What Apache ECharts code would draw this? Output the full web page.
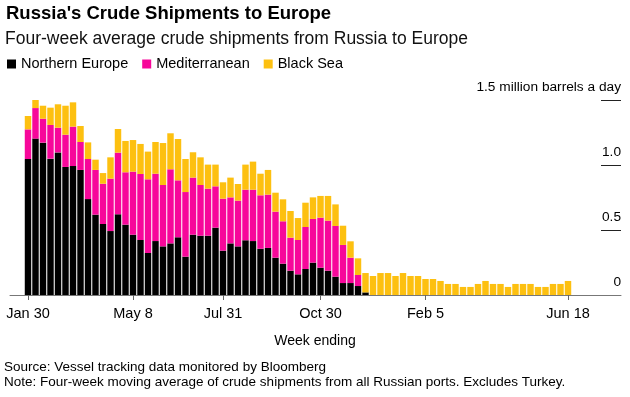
<!DOCTYPE html>
<html><head><meta charset="utf-8">
<script src="https://cdn.jsdelivr.net/npm/echarts@6/dist/echarts.min.js"></script>
<style>html,body{margin:0;padding:0;background:#fff;}#c{width:630px;height:397px;}</style>
</head><body><div id="c"></div>
<script>
// Week-ending dates, Jan 30 2022 to Jun 18 2023 (weekly)
const startDate = Date.UTC(2022, 0, 30);
const categories = [];
for (let i = 0; i < 73; i++) {
  categories.push(new Date(startDate + i * 7 * 86400000).toISOString().slice(0, 10));
}
const tickDates = ['2022-01-30','2022-05-08','2022-07-31','2022-10-30','2023-02-05','2023-06-18'];
const tickLabels = ['Jan 30','May 8','Jul 31','Oct 30','Feb 5','Jun 18'];
const yTickLabels = {0:'0', 0.5:'0.5', 1:'1.0', 1.5:'1.5 million barrels a day'};

const northernEurope = [1.046,1.203,1.172,1.049,1.097,0.985,0.992,0.962,0.738,0.618,
  0.546,0.492,0.621,0.541,0.464,0.423,0.323,0.415,0.374,0.397,
  0.444,0.295,0.464,0.456,0.456,0.518,0.341,0.397,0.374,0.421,
  0.415,0.356,0.362,0.287,0.241,0.187,0.159,0.200,0.249,0.210,
  0.187,0.141,0.092,0.092,0.069,0.020,0,0,0,0,
  0,0,0,0,0,0,0,0,0,0,
  0,0,0,0,0,0,0,0,0,0,
  0,0,0];
const mediterranean = [0.228,0.235,0.184,0.259,0.190,0.248,0.303,0.215,0.308,0.344,
  0.310,0.403,0.474,0.403,0.485,0.508,0.567,0.518,0.472,0.570,
  0.438,0.497,0.439,0.390,0.362,0.318,0.400,0.354,0.352,0.389,
  0.395,0.411,0.410,0.354,0.326,0.254,0.264,0.323,0.336,0.385,
  0.385,0.390,0.293,0.195,0.085,0,0,0,0,0,
  0,0,0,0,0,0,0,0,0,0,
  0,0,0,0,0,0,0,0,0,0,
  0,0,0];
const blackSea = [0.103,0.100,0.100,0.133,0.180,0.223,0.187,0.123,0.128,0.079,
  0.082,0.164,0.182,0.241,0.243,0.231,0.213,0.244,0.323,0.277,
  0.318,0.254,0.195,0.213,0.185,0.167,0.126,0.152,0.128,0.193,
  0.216,0.166,0.190,0.146,0.169,0.205,0.169,0.187,0.166,0.167,
  0.190,0.166,0.148,0.126,0.128,0.149,0.146,0.169,0.169,0.146,
  0.169,0.146,0.146,0.123,0.123,0.108,0.085,0.085,0.062,0.062,
  0.085,0.108,0.085,0.085,0.062,0.085,0.085,0.085,0.062,0.062,
  0.085,0.085,0.108];

const FONT = 'Liberation Sans, Arial, sans-serif';
const chart = echarts.init(document.getElementById('c'), null, {renderer: 'canvas'});
const GT = 100, GH = 195;
chart.setOption({
  animation: false,
  textStyle: {fontFamily: FONT},
  title: [
    {text: "Russia's Crude Shipments to Europe", left: 6, top: 4.5, padding: 0,
     textStyle: {fontSize: 18.5, fontWeight: 'bold', color: '#000', fontFamily: FONT}},
    {text: 'Four-week average crude shipments from Russia to Europe', left: 5, top: 30, padding: 0,
     textStyle: {fontSize: 17.5, fontWeight: 'normal', color: '#111', fontFamily: FONT}},
    {text: 'Week ending', left: 315, top: 334, textAlign: 'center', padding: 0,
     textStyle: {fontSize: 14, fontWeight: 'normal', color: '#000', fontFamily: FONT}},
    {text: 'Source: Vessel tracking data monitored by Bloomberg\nNote: Four-week moving average of crude shipments from all Russian ports. Excludes Turkey.',
     left: 4, top: 359.5, padding: 0,
     textStyle: {fontSize: 13.5, fontWeight: 'normal', color: '#000', lineHeight: 15.5, fontFamily: FONT}}
  ],
  legend: {
    left: 7, top: 56.5, padding: 0, itemWidth: 9, itemHeight: 9, itemGap: 14,
    icon: 'rect', textStyle: {fontSize: 14.5, color: '#000', fontFamily: FONT},
    data: ['Northern Europe', 'Mediterranean', 'Black Sea']
  },
  grid: [
    {left: 24.25, width: 547.5, top: GT, height: GH},
    {left: 10, width: 611, top: GT, height: GH},
    {left: 601, width: 20, top: GT, height: GH}
  ],
  xAxis: [
    {type: 'category', gridIndex: 0, data: categories, boundaryGap: true,
     axisLine: {show: false},
     axisTick: {show: true, alignWithLabel: true, length: 5, lineStyle: {color: '#666'},
       interval: (i, v) => tickDates.indexOf(v) >= 0},
     axisLabel: {interval: (i, v) => tickDates.indexOf(v) >= 0, margin: 11,
       formatter: v => tickLabels[tickDates.indexOf(v)] || '',
       fontSize: 14.5, color: '#000', fontFamily: FONT}},
    {type: 'value', gridIndex: 1, min: 0, max: 1,
     axisLine: {show: true, lineStyle: {color: '#777', width: 1}},
     axisTick: {show: false}, axisLabel: {show: false}, splitLine: {show: false}},
    {type: 'value', gridIndex: 2, min: 0, max: 1, show: false}
  ],
  yAxis: [
    {type: 'value', gridIndex: 0, min: 0, max: 1.5, interval: 0.5, show: false},
    {type: 'value', gridIndex: 1, min: 0, max: 1.5, show: false},
    {type: 'value', gridIndex: 2, min: 0, max: 1.5, interval: 0.5, position: 'right',
     axisLine: {show: false}, axisTick: {show: false},
     splitLine: {show: true, lineStyle: {color: '#222', width: 1}},
     axisLabel: {inside: true, margin: 0, verticalAlign: 'bottom', padding: [0, 0, 6, 0],
       formatter: v => yTickLabels[v], fontSize: 13.7, color: '#000', fontFamily: FONT}}
  ],
  series: [
    {name: 'Northern Europe', type: 'bar', stack: 'total', xAxisIndex: 0, yAxisIndex: 0,
     data: northernEurope, itemStyle: {color: '#000000'}, barCategoryGap: '14%'},
    {name: 'Mediterranean', type: 'bar', stack: 'total', xAxisIndex: 0, yAxisIndex: 0,
     data: mediterranean, itemStyle: {color: '#f7079a'}},
    {name: 'Black Sea', type: 'bar', stack: 'total', xAxisIndex: 0, yAxisIndex: 0,
     data: blackSea, itemStyle: {color: '#fdc010'}},
    {type: 'line', xAxisIndex: 1, yAxisIndex: 1, data: [], silent: true},
    {type: 'line', xAxisIndex: 2, yAxisIndex: 2, data: [], silent: true}
  ]
});
</script></body></html>
